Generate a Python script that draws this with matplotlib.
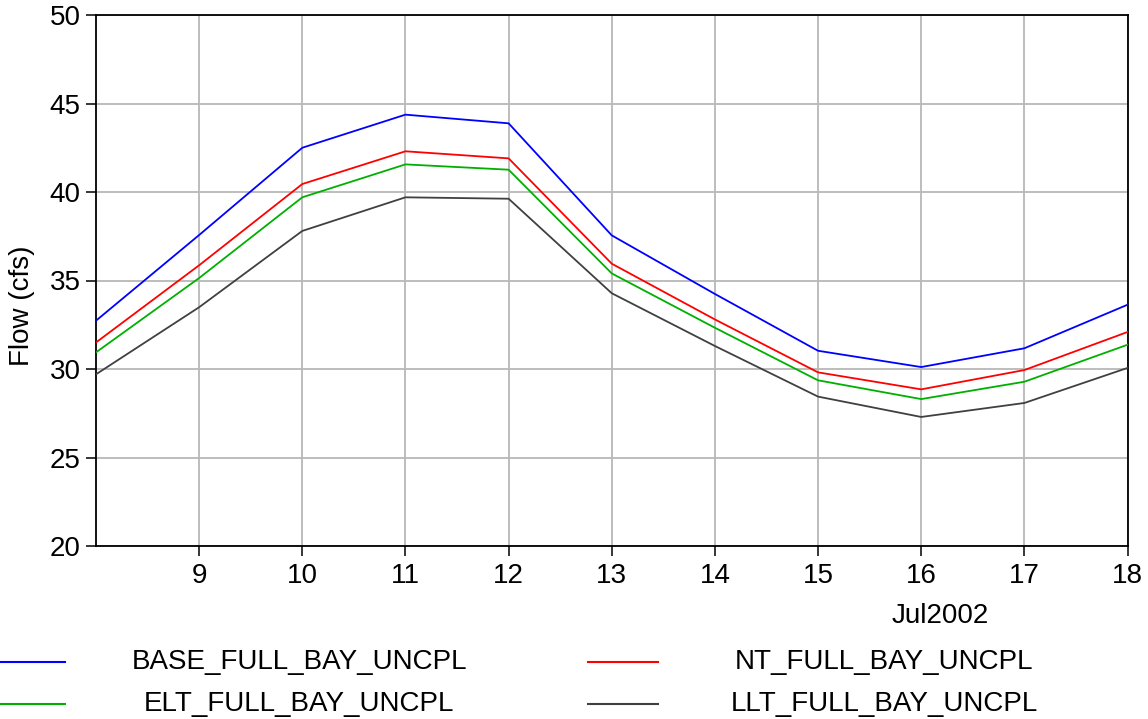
"""Daily flow, Jul 2002, four FULL_BAY_UNCPL scenarios."""
import matplotlib
matplotlib.use("Agg")
import matplotlib.pyplot as plt
from matplotlib.lines import Line2D

plt.rcParams['font.family'] = ['Liberation Sans', 'DejaVu Sans']

# Data
days = [8, 9, 10, 11, 12, 13, 14, 15, 16, 17, 18]
base = [32.73, 37.57, 42.50, 44.37, 43.88, 37.55, 34.24, 31.03, 30.11, 31.17, 33.63]
nt = [31.50, 35.86, 40.45, 42.30, 41.90, 35.95, 32.80, 29.81, 28.85, 29.94, 32.09]
elt = [30.94, 35.14, 39.70, 41.56, 41.26, 35.40, 32.33, 29.36, 28.30, 29.28, 31.37]
llt = [29.70, 33.49, 37.80, 39.70, 39.62, 34.28, 31.30, 28.44, 27.29, 28.08, 30.06]

names = ["BASE_FULL_BAY_UNCPL", "NT_FULL_BAY_UNCPL",
         "ELT_FULL_BAY_UNCPL", "LLT_FULL_BAY_UNCPL"]
series = [base, nt, elt, llt]
colors = ["#0000ff", "#ff0000", "#00b000", "#404040"]

xticks = list(range(9, 19))
yticks = [20, 25, 30, 35, 40, 45, 50]

fs = 20

fig = plt.figure(figsize=(11.48, 7.19), dpi=100)
ax = fig.add_axes([96 / 1148, 1 - 546 / 719, (1127.5 - 96) / 1148, (546 - 15) / 719])

for vals, c in zip(series, colors):
    ax.plot(days, vals, color=c, lw=1.3, zorder=3)

ax.set_xlim(8, 18)
ax.set_ylim(20, 50)
ax.set_xticks(xticks)
ax.set_yticks(yticks)
ax.grid(True, color="#b8b8b8", lw=1.3, zorder=0)
for s in ax.spines.values():
    s.set_linewidth(1.3)
    s.set_color("black")
ax.tick_params(axis="both", direction="out", length=7, width=1.1,
               labelsize=fs, colors="black")
ax.tick_params(axis="x", pad=5)
ax.tick_params(axis="y", pad=4)

fig.text(22 / 1148, 1 - 306 / 719, "Flow (cfs)", rotation=90,
         ha="center", va="center", fontsize=fs)
fig.text(940 / 1148, 1 - 616 / 719, "Jul2002", ha="center", va="center",
         fontsize=fs)

# Legend drawn as two rows of two entries
line_x = [(0, 65), (588, 658)]
text_x = [299, 884]
row_y = [662, 704]
for i, (name, c) in enumerate(zip(names, colors)):
    r, col = divmod(i, 2)
    y = 1 - row_y[r] / 719
    x0, x1 = line_x[col]
    fig.add_artist(Line2D([x0 / 1148, x1 / 1148], [y, y], color=c, lw=1.5,
                          transform=fig.transFigure))
    fig.text(text_x[col] / 1148, y, name, ha="center", va="center",
             fontsize=fs)

fig.savefig("out.png", dpi=100)
